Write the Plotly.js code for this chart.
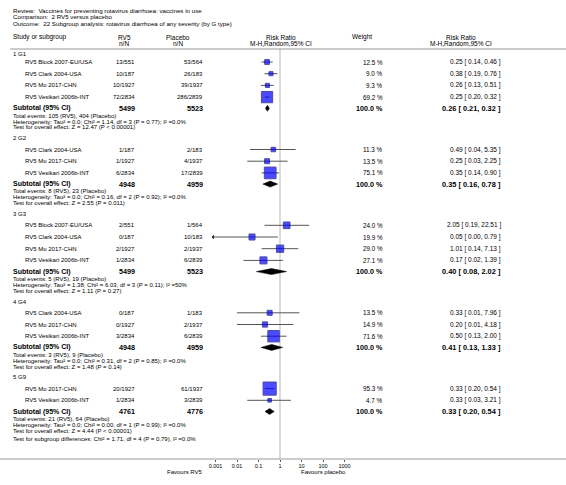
<!DOCTYPE html>
<html><head><meta charset="utf-8">
<script src="https://cdn.plot.ly/plotly-3.0.1.min.js"></script>
<style>html,body{margin:0;padding:0;background:#fff}#chart{width:566px;height:485px}</style>
</head><body><div id="chart"></div>
<script>
// ---------- data ----------
const titleLines = [
  'Review:  Vaccines for preventing rotavirus diarrhoea: vaccines in use',
  'Comparison:  2 RV5 versus placebo',
  'Outcome:  22 Subgroup analysis: rotavirus diarrhoea of any severity (by G type)'
];
const groupLabels = ['1 G1', '2 G2', '3 G3', '4 G4', '5 G9'];
const studyGroup = [0,0,0,0, 1,1,1, 2,2,2,2, 3,3,3, 4,4];
const studyNames = [
  'RV5 Block 2007-EU/USA','RV5 Clark 2004-USA','RV5 Mo 2017-CHN','RV5 Vesikari 2006b-INT',
  'RV5 Clark 2004-USA','RV5 Mo 2017-CHN','RV5 Vesikari 2006b-INT',
  'RV5 Block 2007-EU/USA','RV5 Clark 2004-USA','RV5 Mo 2017-CHN','RV5 Vesikari 2006b-INT',
  'RV5 Clark 2004-USA','RV5 Mo 2017-CHN','RV5 Vesikari 2006b-INT',
  'RV5 Mo 2017-CHN','RV5 Vesikari 2006b-INT'
];
const rv5Events     = [13,10,10,72, 1,1,6, 2,0,2,1, 0,0,3, 20,1];
const rv5Totals     = [551,187,1927,2834, 187,1927,2834, 551,187,1927,2834, 187,1927,2834, 1927,2834];
const placeboEvents = [53,26,39,286, 2,4,17, 1,10,2,6, 1,2,6, 61,3];
const placeboTotals = [564,183,1937,2839, 183,1937,2839, 564,183,1937,2839, 183,1937,2839, 1937,2839];
const weights   = [12.5,9.0,9.3,69.2, 11.3,13.5,75.1, 24.0,19.9,29.0,27.1, 13.5,14.9,71.6, 95.3,4.7];
const riskRatio = [0.25,0.38,0.26,0.25, 0.49,0.25,0.35, 2.05,0.05,1.01,0.17, 0.33,0.20,0.50, 0.33,0.33];
const ciLower   = [0.14,0.19,0.13,0.20, 0.04,0.03,0.14, 0.19,0.00,0.14,0.02, 0.01,0.01,0.13, 0.20,0.03];
const ciUpper   = [0.46,0.76,0.51,0.32, 5.35,2.25,0.90, 22.51,0.79,7.13,1.39, 7.96,4.18,2.00, 0.54,3.21];

const subRv5Totals     = [5499,4948,5499,4948,4761];
const subPlaceboTotals = [5523,4959,5523,4959,4776];
const subRiskRatio     = [0.26,0.35,0.40,0.41,0.33];
const subLower         = [0.21,0.16,0.08,0.13,0.20];
const subUpper         = [0.32,0.78,2.02,1.33,0.54];
const subRv5Events     = [105,8,5,3,21];
const subPlaceboEvents = [404,23,19,9,64];
const heterogeneity = [
  'Heterogeneity: Tau² = 0.0; Chi² = 1.14, df = 3 (P = 0.77); I² =0.0%',
  'Heterogeneity: Tau² = 0.0; Chi² = 0.16, df = 2 (P = 0.92); I² =0.0%',
  'Heterogeneity: Tau² = 1.38; Chi² = 6.03, df = 3 (P = 0.11); I² =50%',
  'Heterogeneity: Tau² = 0.0; Chi² = 0.31, df = 2 (P = 0.85); I² =0.0%',
  'Heterogeneity: Tau² = 0.0; Chi² = 0.00, df = 1 (P = 0.99); I² =0.0%'
];
const overallEffect = [
  'Test for overall effect: Z = 12.47 (P < 0.00001)',
  'Test for overall effect: Z = 2.55 (P = 0.011)',
  'Test for overall effect: Z = 1.11 (P = 0.27)',
  'Test for overall effect: Z = 1.48 (P = 0.14)',
  'Test for overall effect: Z = 4.44 (P < 0.00001)'
];
const subgroupDifferences = 'Test for subgroup differences: Chi² = 1.71, df = 4 (P = 0.79), I² =0.0%';
const tickValues = [0.001, 0.01, 0.1, 1, 10, 100, 1000];
const tickLabels = ['0.001', '0.01', '0.1', '1', '10', '100', '1000'];
const favoursLeft = 'Favours RV5';
const favoursRight = 'Favours placebo';

// ---------- layout helpers ----------
const W = 566, H = 485;
const FONT = 'Liberation Sans, Arial, sans-serif';
const annotations = [];
function txt(x, y, text, anchor, size, bold) {
  annotations.push({
    xref: 'paper', yref: 'y', x: x / W, y: y,
    text: bold ? '<b>' + text + '</b>' : text,
    showarrow: false, xanchor: anchor, yanchor: 'middle',
    borderpad: 0, borderwidth: 0,
    font: { size: size, color: '#000', family: FONT }
  });
}
const fmt2 = v => v.toFixed(2);
const ciText = (r, l, u) => fmt2(r) + ' [ ' + fmt2(l) + ', ' + fmt2(u) + ' ]';

// columns (pixels)
const COL_LEFT = 13, COL_STUDY = 25, COL_RV5 = 135, COL_PLA = 203,
      COL_WEIGHT = 383, COL_RR = 501, COL_RR_HEAD = 461, COL_MID = 281, COL_W_HEAD = 362;
const PLOT_L = 212, PLOT_R = 348, ONE_X = 280;
const AXIS_Y = 459;
const FOOT = 6;

// titles & headers
titleLines.forEach((t, i) => txt(COL_LEFT, 10 + i * 6.7, t, 'left', 6.2));
txt(COL_LEFT, 37, 'Study or subgroup', 'left', 6.5);
txt(124, 37, 'RV5', 'center', 6.5);  txt(124, 43, 'n/N', 'center', 6.5);
txt(178, 37, 'Placebo', 'center', 6.5); txt(178, 43, 'n/N', 'center', 6.5);
txt(COL_MID, 37, 'Risk Ratio', 'center', 6.5); txt(COL_MID, 43, 'M-H,Random,95% CI', 'center', 6.5);
txt(COL_W_HEAD, 37, 'Weight', 'center', 6.5);
txt(COL_RR_HEAD, 37, 'Risk Ratio', 'center', 6.5); txt(COL_RR_HEAD, 43, 'M-H,Random,95% CI', 'center', 6.5);

// rows
const studyY = [], subY = [];
let y = 54;
groupLabels.forEach((g, gi) => {
  txt(COL_LEFT, y, g, 'left', 6);
  y += gi === 0 ? 8 : 11.3;
  const idx = studyGroup.map((s, i) => s === gi ? i : -1).filter(i => i >= 0);
  idx.forEach((i, k) => {
    if (k > 0) y += 11.7;
    studyY[i] = y;
    txt(COL_STUDY, y, studyNames[i], 'left', 6);
    txt(COL_RV5, y, rv5Events[i] + '/' + rv5Totals[i], 'right', 6);
    txt(COL_PLA, y, placeboEvents[i] + '/' + placeboTotals[i], 'right', 6);
    txt(COL_WEIGHT, y, weights[i].toFixed(1) + ' %', 'right', 6.3);
    txt(COL_RR, y, ciText(riskRatio[i], ciLower[i], ciUpper[i]), 'right', 6.5);
  });
  y += 11.2;
  subY[gi] = y;
  txt(COL_LEFT, y, 'Subtotal (95% CI)', 'left', 7, true);
  txt(COL_RV5, y, String(subRv5Totals[gi]), 'right', 7.2, true);
  txt(COL_PLA, y, String(subPlaceboTotals[gi]), 'right', 7.2, true);
  txt(COL_WEIGHT, y, '100.0 %', 'right', 7.2, true);
  txt(COL_RR, y, ciText(subRiskRatio[gi], subLower[gi], subUpper[gi]), 'right', 7.4, true);
  y += 7.3; txt(COL_LEFT, y, 'Total events: ' + subRv5Events[gi] + ' (RV5), ' + subPlaceboEvents[gi] + ' (Placebo)', 'left', FOOT);
  y += 5.9; txt(COL_LEFT, y, heterogeneity[gi], 'left', FOOT);
  y += 5.9; txt(COL_LEFT, y, overallEffect[gi], 'left', FOOT);
  y += 10.8;
});
txt(COL_LEFT, y - 2.5, subgroupDifferences, 'left', FOOT);
txt(203, 471.5, favoursLeft, 'right', 6);
txt(301, 471.5, favoursRight, 'left', 6);

// ---------- forest traces ----------
const decade = 21.5;
const xr = [(PLOT_L - ONE_X) / decade, (PLOT_R - ONE_X) / decade];
const minV = Math.pow(10, xr[0]), maxV = Math.pow(10, xr[1]);
const lineX = [], lineY = [], arrowX = [], arrowY = [];
riskRatio.forEach((r, i) => {
  const lo = Math.max(ciLower[i], minV), hi = Math.min(ciUpper[i], maxV);
  lineX.push(lo, hi, null); lineY.push(studyY[i], studyY[i], null);
  if (ciLower[i] < minV) { arrowX.push(minV * 1.12); arrowY.push(studyY[i]); }
});
const traces = [];
traces.push({ type: 'scatter', mode: 'lines', x: lineX, y: lineY, hoverinfo: 'skip',
  line: { color: '#555', width: 1 }, showlegend: false });
traces.push({ type: 'scatter', mode: 'markers', x: arrowX, y: arrowY, hoverinfo: 'skip',
  marker: { symbol: 'triangle-left', size: 4, color: '#333' }, showlegend: false });
traces.push({ type: 'scatter', mode: 'markers', x: riskRatio, y: studyY, hoverinfo: 'skip',
  marker: { symbol: 'square', size: weights.map(w => Math.max(3.6, 1.35 * Math.sqrt(w))),
    color: '#0000ff', line: { color: '#000080', width: 1 } }, showlegend: false });
subRiskRatio.forEach((r, gi) => {
  const yy = subY[gi];
  traces.push({ type: 'scatter', mode: 'lines', fill: 'toself', hoverinfo: 'skip',
    x: [subLower[gi], r, subUpper[gi], r, subLower[gi]],
    y: [yy, yy - 3, yy, yy + 3, yy],
    fillcolor: '#000', line: { color: '#000', width: 0.5 }, showlegend: false });
});

const shapes = [
  { type: 'line', xref: 'x', yref: 'y', x0: 1, x1: 1, y0: 49, y1: AXIS_Y, line: { color: '#cfcfcf', width: 1.5 }, layer: 'below' },
  { type: 'line', xref: 'paper', yref: 'y', x0: 10 / W, x1: 1, y0: 49, y1: 49, line: { color: '#999', width: 1.2 } },
  { type: 'line', xref: 'paper', yref: 'y', x0: 0, x1: 1, y0: AXIS_Y, y1: AXIS_Y, line: { color: '#999', width: 1.2 } }
];

const layout = {
  width: W, height: H, margin: { l: 0, r: 0, t: 0, b: 0 },
  paper_bgcolor: '#fff', plot_bgcolor: 'rgba(0,0,0,0)',
  showlegend: false,
  xaxis: { type: 'log', domain: [PLOT_L / W, PLOT_R / W], range: xr,
    anchor: 'free', position: 1 - AXIS_Y / H, showgrid: false, zeroline: false, showline: false,
    ticks: 'outside', ticklen: 2, tickwidth: 1, tickcolor: '#555', ticklabelstandoff: -1,
    tickvals: tickValues, ticktext: tickLabels, tickfont: { size: 5.5, family: FONT, color: '#000' } },
  yaxis: { range: [H, 0], domain: [0, 1], visible: false, showgrid: false, zeroline: false },
  shapes: shapes, annotations: annotations
};
Plotly.newPlot('chart', traces, layout, { displayModeBar: false, staticPlot: true });
</script></body></html>
